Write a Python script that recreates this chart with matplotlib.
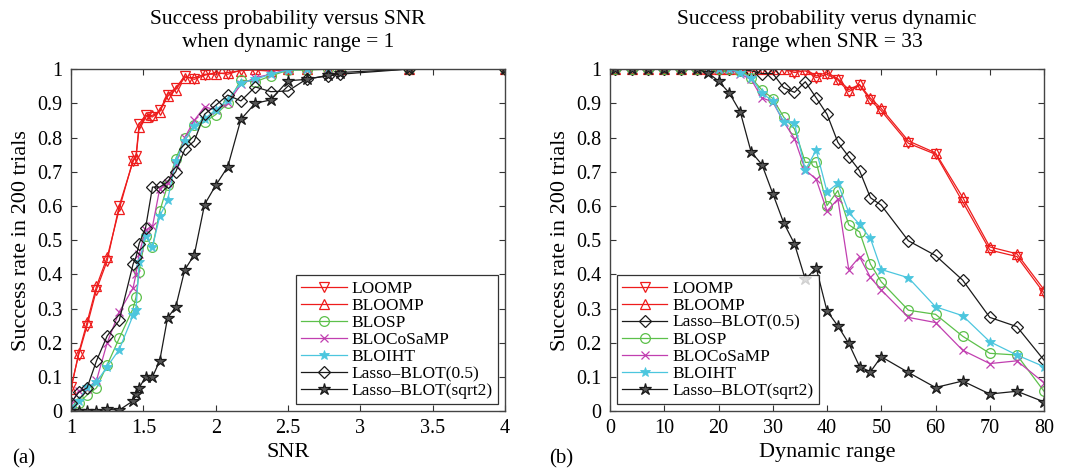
import matplotlib
matplotlib.use("Agg")
import matplotlib.pyplot as plt

# ---------------- data: panel (a) ----------------
snr = [1.0, 1.053, 1.111, 1.176, 1.25, 1.333, 1.429, 1.449, 1.471, 1.515, 1.563,
       1.613, 1.667, 1.724, 1.786, 1.852, 1.923, 2.0, 2.083, 2.174, 2.273, 2.381,
       2.5, 2.632, 2.778, 2.857, 3.333, 4.0]
a_loomp = [0.07, 0.165, 0.25, 0.355, 0.44, 0.60, 0.73, 0.745, 0.84, 0.865, 0.86,
           0.88, 0.925, 0.945, 0.98, 0.97, 0.982, 0.99, 0.985, 0.997, 0.997, 0.994,
           1.0, 1.0, 1.0, 1.0, 1.0, 1.0]
a_bloomp = [0.065, 0.17, 0.26, 0.365, 0.45, 0.59, 0.735, 0.74, 0.83, 0.86, 0.865,
            0.875, 0.92, 0.94, 0.975, 0.975, 0.985, 0.985, 0.99, 0.995, 1.0, 0.995,
            1.0, 1.0, 1.0, 1.0, 1.0, 1.0]
a_blosp = [0.015, 0.024, 0.047, 0.068, 0.135, 0.213, 0.30, 0.333, 0.408, 0.513, 0.479,
           0.584, 0.66, 0.738, 0.80, 0.836, 0.845, 0.867, 0.90, 0.968, 0.963, 0.98,
           0.997, 0.997, 1.0, 1.0, 1.0, 1.0]
a_blocosamp = [0.02, 0.06, 0.065, 0.09, 0.20, 0.29, 0.36, 0.40, 0.46, 0.53, 0.54,
               0.65, 0.667, 0.72, 0.80, 0.85, 0.89, 0.88, 0.90, 0.955, 0.975, 0.985,
               1.0, 1.0, 1.0, 1.0, 1.0, 1.0]
a_bloiht = [0.01, 0.03, 0.07, 0.085, 0.13, 0.18, 0.28, 0.295, 0.435, 0.513, 0.48,
            0.57, 0.616, 0.73, 0.79, 0.835, 0.855, 0.88, 0.91, 0.96, 0.97, 0.985,
            0.997, 1.0, 1.0, 1.0, 1.0, 1.0]
a_lasso05 = [0.025, 0.055, 0.068, 0.147, 0.22, 0.265, 0.43, 0.45, 0.49, 0.535, 0.655,
             0.655, 0.67, 0.70, 0.765, 0.79, 0.868, 0.894, 0.924, 0.907, 0.948, 0.934,
             0.936, 0.972, 0.98, 0.985, 1.0, 1.0]
a_lassosq2 = [0.0, 0.0, 0.0, 0.0, 0.005, 0.003, 0.03, 0.05, 0.068, 0.10, 0.10,
              0.147, 0.272, 0.305, 0.413, 0.457, 0.604, 0.66, 0.714, 0.853, 0.90, 0.91,
              0.966, 0.97, 0.982, 0.99, 1.0, 1.0]

# ---------------- data: panel (b) ----------------
dr = [1, 4, 7, 10, 13, 16, 18, 20, 22, 24, 26, 28, 30, 32, 34, 36, 38, 40, 42, 44,
      46, 48, 50, 55, 60, 65, 70, 75, 80]
b_loomp = [1.0, 1.0, 1.0, 1.0, 1.0, 1.0, 1.0, 1.0, 1.0, 1.0, 1.0, 1.0, 1.0, 1.0, 0.99,
           0.995, 0.975, 0.985, 0.968, 0.934, 0.953, 0.909, 0.878, 0.783, 0.751, 0.612,
           0.471, 0.452, 0.345]
b_bloomp = [1.0, 1.0, 1.0, 1.0, 1.0, 1.0, 1.0, 1.0, 1.0, 1.0, 1.0, 1.0, 1.0, 1.0, 0.995,
            1.0, 0.98, 0.99, 0.972, 0.94, 0.955, 0.915, 0.885, 0.79, 0.755, 0.625,
            0.48, 0.46, 0.355]
b_lasso05 = [1.0, 1.0, 1.0, 1.0, 1.0, 1.0, 1.0, 1.0, 1.0, 1.0, 0.995, 0.987, 0.987,
             0.946, 0.932, 0.963, 0.916, 0.868, 0.786, 0.744, 0.703, 0.624, 0.602,
             0.498, 0.455, 0.383, 0.274, 0.247, 0.149]
b_blosp = [1.0, 1.0, 1.0, 1.0, 1.0, 1.0, 1.0, 1.0, 1.0, 0.994, 0.975, 0.939, 0.914,
           0.86, 0.825, 0.727, 0.729, 0.601, 0.645, 0.545, 0.524, 0.43, 0.378,
           0.295, 0.283, 0.219, 0.169, 0.164, 0.058]
b_blocosamp = [1.0, 1.0, 1.0, 1.0, 1.0, 1.0, 1.0, 1.0, 1.0, 0.985, 0.97, 0.916, 0.904,
               0.846, 0.797, 0.705, 0.678, 0.585, 0.62, 0.414, 0.451, 0.391, 0.354,
               0.274, 0.259, 0.178, 0.139, 0.147, 0.083]
b_bloiht = [1.0, 1.0, 1.0, 1.0, 1.0, 1.0, 1.0, 1.0, 1.0, 0.99, 0.975, 0.929, 0.907,
            0.846, 0.841, 0.705, 0.763, 0.641, 0.666, 0.581, 0.546, 0.505, 0.414,
            0.39, 0.305, 0.279, 0.203, 0.164, 0.13]
b_lassosq2 = [1.0, 1.0, 1.0, 1.0, 1.0, 1.0, 0.99, 0.965, 0.93, 0.875, 0.758, 0.721,
              0.636, 0.551, 0.489, 0.385, 0.419, 0.293, 0.249, 0.198, 0.13, 0.115,
              0.159, 0.113, 0.069, 0.088, 0.05, 0.058, 0.027]

yticks = [0, 0.1, 0.2, 0.3, 0.4, 0.5, 0.6, 0.7, 0.8, 0.9, 1]
ytick_labels = ["0", "0.1", "0.2", "0.3", "0.4", "0.5", "0.6", "0.7", "0.8", "0.9", "1"]
a_xticks = [1, 1.5, 2, 2.5, 3, 3.5, 4]
a_xtick_labels = ["1", "1.5", "2", "2.5", "3", "3.5", "4"]
b_xticks = [0, 10, 20, 30, 40, 50, 60, 70, 80]

plt.rcParams['font.family'] = ['Liberation Serif', 'DejaVu Serif']

RED = '#ee1c1c'
GREEN = '#5cc04a'
MAG = '#c13fb0'
CYAN = '#4cc6de'
BLK = '#1a1a1a'

styles = {
    'LOOMP': dict(color=RED, marker='v', mfc='none', ms=7.5, mew=0.9),
    'BLOOMP': dict(color=RED, marker='^', mfc='none', ms=7.5, mew=0.9),
    'BLOSP': dict(color=GREEN, marker='o', mfc='none', ms=7, mew=0.9),
    'BLOCoSaMP': dict(color=MAG, marker='x', ms=6, mew=0.9),
    'BLOIHT': dict(color=CYAN, marker='*', ms=7, mew=0.6),
    'Lasso\u2013BLOT(0.5)': dict(color=BLK, marker='D', mfc='none', ms=6, mew=0.9),
    'Lasso\u2013BLOT(sqrt2)': dict(color=BLK, marker='*', mfc='#555555', ms=9, mew=0.9),
}

fig = plt.figure(figsize=(10.65, 4.72), dpi=100)
axA = fig.add_axes([0.0667, 0.129, 0.4075, 0.7246])
axB = fig.add_axes([0.5728, 0.129, 0.4075, 0.7246])

seriesA = [('LOOMP', a_loomp), ('BLOOMP', a_bloomp), ('BLOSP', a_blosp),
           ('BLOCoSaMP', a_blocosamp), ('BLOIHT', a_bloiht),
           ('Lasso\u2013BLOT(0.5)', a_lasso05), ('Lasso\u2013BLOT(sqrt2)', a_lassosq2)]
seriesB = [('LOOMP', b_loomp), ('BLOOMP', b_bloomp), ('Lasso\u2013BLOT(0.5)', b_lasso05),
           ('BLOSP', b_blosp), ('BLOCoSaMP', b_blocosamp), ('BLOIHT', b_bloiht),
           ('Lasso\u2013BLOT(sqrt2)', b_lassosq2)]

for name, vals in seriesA:
    axA.plot(snr, vals, lw=0.9, label=name, **styles[name])
for name, vals in seriesB:
    axB.plot(dr, vals, lw=0.9, label=name, **styles[name])

FS = 14.5
for ax in (axA, axB):
    ax.set_ylim(0, 1)
    ax.set_yticks(yticks)
    ax.set_yticklabels(ytick_labels, fontsize=FS)
    ax.tick_params(direction='in', top=True, right=True, length=4, width=0.8,
                   color='#333333')
    ax.tick_params(axis='x', pad=6)
    ax.tick_params(axis='y', pad=6)
    for s in ax.spines.values():
        s.set_color('#444444')
        s.set_linewidth(1.0)
    ax.set_ylabel('Success rate in 200 trials', fontsize=16, labelpad=5)
    leg = ax.legend(loc='lower right', fontsize=12.5, frameon=True, fancybox=False,
                    edgecolor='black', handlelength=2.6, handletextpad=0.3,
                    labelspacing=0.05, borderpad=0.3, borderaxespad=0.4)
    leg.get_frame().set_linewidth(0.9)

axA.set_xlim(1, 4)
axA.set_xticks(a_xticks)
axA.set_xticklabels(a_xtick_labels, fontsize=FS)
axA.set_xlabel('SNR', fontsize=16, labelpad=3)
axA.set_title('Success probability versus SNR\nwhen dynamic range = 1', fontsize=15.5,
              linespacing=1.3, pad=16)

axB.set_xlim(0, 80)
axB.set_xticks(b_xticks)
axB.set_xticklabels([str(t) for t in b_xticks], fontsize=FS)
axB.set_xlabel('Dynamic range', fontsize=16, labelpad=3)
axB.set_title('Success probability verus dynamic\nrange when SNR = 33', fontsize=15.5,
              linespacing=1.3, pad=16)
axB.get_legend().set_loc('lower left')

fig.text(0.011, 0.018, '(a)', fontsize=15)
fig.text(0.516, 0.018, '(b)', fontsize=15)

fig.savefig('out.png', dpi=100)
